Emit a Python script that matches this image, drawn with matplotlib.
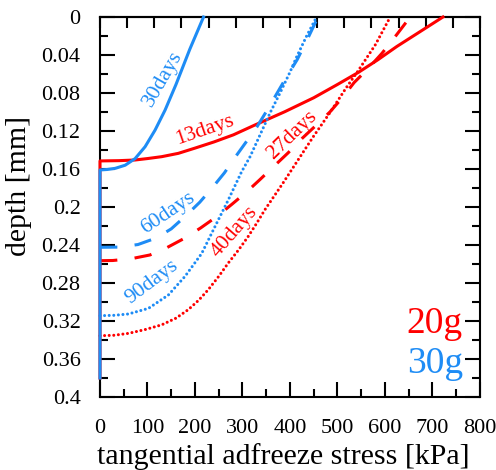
"""
adfreeze.py — depth vs tangential adfreeze stress, 20g (red) and 30g (blue) runs.
"""
import numpy as np
import matplotlib
matplotlib.use("Agg")
import matplotlib.pyplot as plt
from matplotlib.ticker import MultipleLocator, FuncFormatter

plt.rcParams["font.family"] = "serif"
plt.rcParams["font.serif"] = ["Liberation Serif", "DejaVu Serif"]
plt.rcParams["lines.scale_dashes"] = False

RED = "#ff0000"
BLUE = "#1e8cf5"

# 20g runs (stress kPa, depth mm)
r13_x = [0, 0, 40, 74, 100, 130, 165, 200, 240, 281, 326, 389, 450, 500, 545, 585, 625, 672, 722]
r13_y = [0.38, 0.1515, 0.1512, 0.1505, 0.149, 0.147, 0.1435, 0.138, 0.1315, 0.124, 0.1137, 0.0997,
         0.085, 0.071, 0.058, 0.045, 0.031, 0.016, 0.0]
r27_x = [0, 27, 65, 105, 140, 179, 212, 246, 278, 309, 337, 358, 396, 425, 455, 484, 510, 535, 565, 594, 624, 653]
r27_y = [0.2565, 0.2563, 0.2545, 0.2505, 0.243, 0.2326, 0.222, 0.21, 0.197, 0.184, 0.171, 0.161, 0.143,
         0.128, 0.114, 0.100, 0.085, 0.069, 0.054, 0.038, 0.019, 0.0]
r40_x = [0, 30, 60, 95, 130, 160, 186, 208, 228, 250, 270, 292, 312, 330, 347, 366, 385, 415, 449, 485, 519,
         543, 580, 611]
r40_y = [0.3355, 0.335, 0.333, 0.329, 0.324, 0.317, 0.308, 0.298, 0.287, 0.273, 0.259, 0.245, 0.231, 0.217,
         0.203, 0.189, 0.175, 0.152, 0.126, 0.100, 0.074, 0.057, 0.029, 0.0]

# 30g runs
b30_x = [0, 0, 15, 32, 53, 74, 95, 116, 137, 160, 189, 218]
b30_y = [0.38, 0.161, 0.1605, 0.1593, 0.156, 0.149, 0.1365, 0.119, 0.098, 0.071, 0.034, 0.0]
b60_x = [0, 40, 80, 119, 150, 179, 210, 236, 262, 284, 307, 330, 352, 373, 394, 415, 437, 459]
b60_y = [0.2424, 0.2422, 0.2395, 0.2325, 0.223, 0.21, 0.195, 0.18, 0.164, 0.148, 0.132, 0.116, 0.098,
         0.080, 0.062, 0.045, 0.023, 0.0]
b90_x = [0, 30, 60, 102, 144, 179, 214, 242, 270, 298, 316, 337, 358, 379, 400, 414, 435, 456]
b90_y = [0.3144, 0.314, 0.3126, 0.3067, 0.2926, 0.273, 0.249, 0.2207, 0.1926, 0.163, 0.147, 0.124, 0.101,
         0.080, 0.058, 0.042, 0.020, 0.0]

curve_labels = [  # text, x, depth, angle, colour
    ("30days", 132, 0.065, 60, BLUE),
    ("13days", 221, 0.119, 19, RED),
    ("27days", 404, 0.124, 44, RED),
    ("60days", 143, 0.206, 34, BLUE),
    ("90days", 110, 0.279, 37, BLUE),
    ("40days", 284, 0.226, 49, RED),
]

fig = plt.figure(figsize=(4.96, 4.70), dpi=100)
ax = fig.add_axes([0.2016, 0.1553, 0.7661, 0.8085])

kw = dict(lw=2.2, clip_on=False, zorder=3)
dash = dict(dashes=(12.5, 12.5))
dot = dict(dashes=(0.01, 3.3), dash_capstyle="round")
ax.plot(r13_x, r13_y, color=RED, **kw)
ax.plot(r27_x, r27_y, color=RED, **dash, **kw)
ax.plot(r40_x, r40_y, color=RED, **dot, **kw)
ax.plot(b30_x, b30_y, color=BLUE, **kw)
ax.plot(b60_x, b60_y, color=BLUE, **dash, **kw)
ax.plot(b90_x, b90_y, color=BLUE, **dot, **kw)

for txt, x, y, ang, c in curve_labels:
    ax.text(x, y, txt, color=c, fontsize=15.5, rotation=ang, rotation_mode="anchor",
            ha="center", va="center")

ax.text(0.955, 0.168, "20g", color=RED, fontsize=27, ha="right", va="baseline", transform=ax.transAxes)
ax.text(0.955, 0.063, "30g", color=BLUE, fontsize=27, ha="right", va="baseline", transform=ax.transAxes)

ax.set_xlim(0, 800)
ax.set_ylim(0.4, 0)
ax.xaxis.set_major_locator(MultipleLocator(100))
ax.xaxis.set_minor_locator(MultipleLocator(50))
ax.yaxis.set_major_locator(MultipleLocator(0.04))
ax.yaxis.set_minor_locator(MultipleLocator(0.02))
ax.yaxis.set_major_formatter(FuncFormatter(lambda v, p: f"{round(v, 2):g}"))
ax.tick_params(which="both", direction="in", width=1.5, labelsize=16, right=True, top=False)
ax.tick_params(which="major", length=11)
ax.tick_params(which="minor", length=6)
ax.tick_params(axis="y", pad=14)
ax.tick_params(axis="x", pad=16)
for s in ax.spines.values():
    s.set_linewidth(1.5)

top = ax.secondary_xaxis("top")
top.set_xticks(np.linspace(0, 800, 15))
top.set_xticklabels([])
top.tick_params(direction="in", length=8, width=1.5)
top.spines["top"].set_linewidth(1.5)

ax.set_xlabel("tangential adfreeze stress [kPa]", fontsize=21.5)
ax.set_ylabel("depth [mm]", fontsize=21.5)
ax.xaxis.set_label_coords(0.483, -0.122)
ax.yaxis.set_label_coords(-0.178, 0.555)

fig.savefig("out.png", dpi=100)
